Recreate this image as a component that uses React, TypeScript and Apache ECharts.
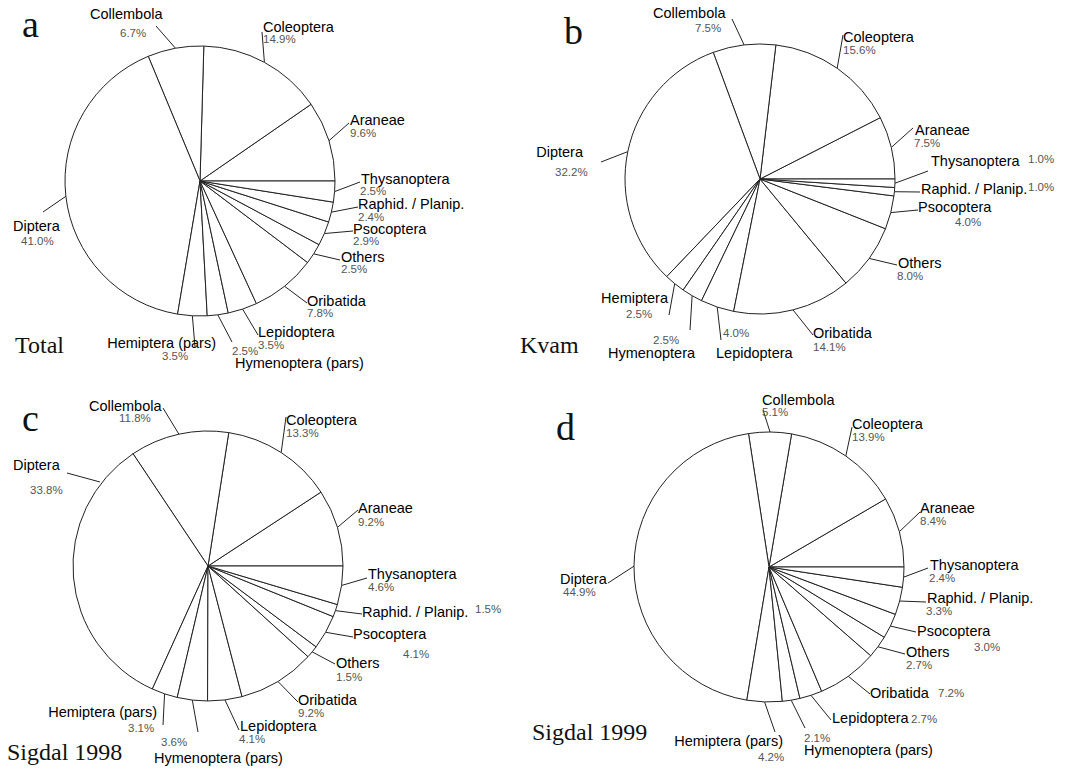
import React, { useEffect, useRef } from "react";
import * as echarts from "echarts";

// ---------- data ----------
const taxa = [
  "Araneae",
  "Coleoptera",
  "Collembola",
  "Diptera",
  "Hemiptera (pars)",
  "Hymenoptera (pars)",
  "Lepidoptera",
  "Oribatida",
  "Others",
  "Psocoptera",
  "Raphid. / Planip.",
  "Thysanoptera",
];
const taxaKvam = [
  "Araneae",
  "Coleoptera",
  "Collembola",
  "Diptera",
  "Hemiptera",
  "Hymenoptera",
  "Lepidoptera",
  "Oribatida",
  "Others",
  "Psocoptera",
  "Raphid. / Planip.",
  "Thysanoptera",
];

const totalValues = [9.6, 14.9, 6.7, 41.0, 3.5, 2.5, 3.5, 7.8, 2.5, 2.9, 2.4, 2.5];
const kvamValues = [7.5, 15.6, 7.5, 32.2, 2.5, 2.5, 4.0, 14.1, 8.0, 4.0, 1.0, 1.0];
const sigdal1998Values = [9.2, 13.3, 11.8, 33.8, 3.1, 3.6, 4.1, 9.2, 1.5, 4.1, 1.5, 4.6];
const sigdal1999Values = [8.4, 13.9, 5.1, 44.9, 4.2, 2.1, 2.7, 7.2, 2.7, 3.0, 3.3, 2.4];

const panelLetters = ["a", "b", "c", "d"];
const panelNames = ["Total", "Kvam", "Sigdal 1998", "Sigdal 1999"];

// ---------- layout (page pixels; the chart covers the whole page) ----------
const pieCenters = [
  [200, 181],
  [760, 179],
  [208, 566],
  [769, 567],
];
const PIE_R = 135;

// name label anchors: [x, yMiddle, align]
const nameAnchors: [number, number, string][][] = [
  [
    [350, 120, "left"], [263, 27, "left"], [90, 14, "left"], [13, 226, "left"],
    [216, 343, "right"], [235, 363, "left"], [258, 332, "left"], [307, 301, "left"],
    [341, 257, "left"], [353, 229, "left"], [358, 204, "left"], [361, 179, "left"],
  ],
  [
    [915, 130, "left"], [843, 37, "left"], [653, 13, "left"], [583, 152, "right"],
    [668, 298, "right"], [608, 353, "left"], [716, 353, "left"], [813, 333, "left"],
    [898, 263, "left"], [918, 207, "left"], [921, 189, "left"], [931, 161, "left"],
  ],
  [
    [358, 508, "left"], [286, 420, "left"], [89, 406, "left"], [13, 465, "left"],
    [157, 712, "right"], [154, 758, "left"], [240, 726, "left"], [298, 700, "left"],
    [336, 663, "left"], [353, 634, "left"], [362, 612, "left"], [368, 574, "left"],
  ],
  [
    [920, 508, "left"], [852, 424, "left"], [762, 400, "left"], [560, 579, "left"],
    [783, 741, "right"], [804, 750, "left"], [832, 718, "left"], [870, 693, "left"],
    [906, 652, "left"], [917, 631, "left"], [927, 598, "left"], [930, 565, "left"],
  ],
];
// percentage label anchors: [x, yMiddle] (left aligned)
const pctAnchors: [number, number][][] = [
  [
    [350, 133], [263, 39], [120, 33], [21, 241], [162, 356], [232, 351],
    [258, 345], [307, 313], [341, 269], [353, 241], [358, 217], [360, 191],
  ],
  [
    [914, 143], [843, 50], [695, 28], [555, 172], [626, 314], [653, 340],
    [723, 333], [813, 347], [897, 276], [955, 222], [1028, 187], [1028, 159],
  ],
  [
    [358, 522], [286, 433], [119, 418], [30, 490], [128, 728], [161, 742],
    [239, 739], [298, 713], [336, 677], [403, 654], [475, 609], [368, 587],
  ],
  [
    [920, 521], [852, 437], [762, 412], [563, 592], [758, 757], [804, 738],
    [911, 719], [938, 693], [906, 665], [974, 647], [926, 611], [929, 578],
  ],
];
// where each leader line ends
const leaderEnds: [number, number][][] = [
  [
    [349, 123], [262, 32], [156, 26], [43, 212], [195, 347], [232, 342],
    [258, 335], [307, 303], [340, 260], [353, 231], [358, 207], [360, 182],
  ],
  [
    [913, 128], [843, 35], [732, 19], [601, 162], [669, 315], [690, 330],
    [721, 340], [813, 335], [897, 265], [918, 210], [920, 192], [928, 171],
  ],
  [
    [358, 510], [286, 417], [163, 408], [67, 473], [163, 725], [198, 732],
    [239, 730], [298, 702], [335, 664], [353, 637], [362, 614], [367, 578],
  ],
  [
    [920, 512], [852, 427], [763, 410], [608, 583], [775, 732], [805, 728],
    [831, 720], [870, 694], [905, 654], [916, 632], [926, 602], [928, 568],
  ],
];
// leader lines that do not start at the slice's mid angle: "panel-index" -> start
const leaderStartOverrides: Record<string, [number, number]> = {
  "2-3": [100, 482],
};

const letterPos = [
  [22, 5],
  [564, 12],
  [22, 399],
  [556, 408],
];
const namePos = [
  [15, 333],
  [520, 333],
  [7, 740],
  [532, 720],
];

export default function App() {
  const ref = useRef<HTMLDivElement>(null);
  useEffect(() => {
    if (!ref.current) return;
    const chart = echarts.init(ref.current, null, { renderer: "svg" });
    const sans = "Liberation Sans, Arial, sans-serif";
    const serif = "Liberation Serif, Times New Roman, serif";
    const panels = [
      { names: taxa, vals: totalValues },
      { names: taxaKvam, vals: kvamValues },
      { names: taxa, vals: sigdal1998Values },
      { names: taxa, vals: sigdal1999Values },
    ];
    const base = (p: number) => ({
      type: "pie",
      center: pieCenters[p],
      radius: PIE_R,
      startAngle: 0,
      clockwise: false,
      avoidLabelOverlap: false,
      emphasis: { disabled: true },
      data: panels[p].names.map((n, i) => ({ name: n, value: panels[p].vals[i] })),
    });
    const nameSeries = [0, 1, 2, 3].map((p) => ({
      ...base(p),
      itemStyle: { color: "#fff", borderColor: "#222", borderWidth: 1 },
      label: {
        show: true,
        position: "outside",
        overflow: "none",
        formatter: "{b}",
        fontFamily: sans,
        fontSize: 14.5,
        color: "#000",
      },
      labelLine: { show: true, length: 10, length2: 10, lineStyle: { color: "#222", width: 1 } },
      labelLayout: (prm: any) => {
        const a = nameAnchors[p][prm.dataIndex];
        const e = leaderEnds[p][prm.dataIndex];
        const ov = leaderStartOverrides[`${p}-${prm.dataIndex}`];
        const start = ov ? ov : prm.labelLinePoints ? prm.labelLinePoints[0] : e;
        return {
          x: a[0],
          y: a[1],
          align: a[2],
          verticalAlign: "middle",
          labelLinePoints: [start, e, e],
        };
      },
    }));
    const pctSeries = [0, 1, 2, 3].map((p) => ({
      ...base(p),
      silent: true,
      itemStyle: { color: "rgba(0,0,0,0)", borderWidth: 0 },
      label: {
        show: true,
        position: "outside",
        overflow: "none",
        formatter: (q: any) => `${Number(q.value).toFixed(1)}%`,
        fontFamily: sans,
        fontSize: 11.5,
        color: "#555",
      },
      labelLine: { show: false },
      labelLayout: (prm: any) => {
        const a = pctAnchors[p][prm.dataIndex];
        return { x: a[0], y: a[1], align: "left", verticalAlign: "middle" };
      },
    }));
    chart.setOption({
      animation: false,
      backgroundColor: "#fff",
      title: [
        ...panelLetters.map((t, i) => ({
          text: t,
          left: letterPos[i][0],
          top: letterPos[i][1],
          padding: 0,
          textStyle: { fontFamily: serif, fontSize: 38, fontWeight: "normal", color: "#111" },
        })),
        ...panelNames.map((t, i) => ({
          text: t,
          left: namePos[i][0],
          top: namePos[i][1],
          padding: 0,
          textStyle: { fontFamily: serif, fontSize: 24, fontWeight: "normal", color: "#111" },
        })),
      ],
      series: [...nameSeries, ...pctSeries],
    });
    return () => chart.dispose();
  }, []);
  return (
    <div
      ref={ref}
      style={{ position: "absolute", left: 0, top: 0, width: 1078, height: 769 }}
    />
  );
}
